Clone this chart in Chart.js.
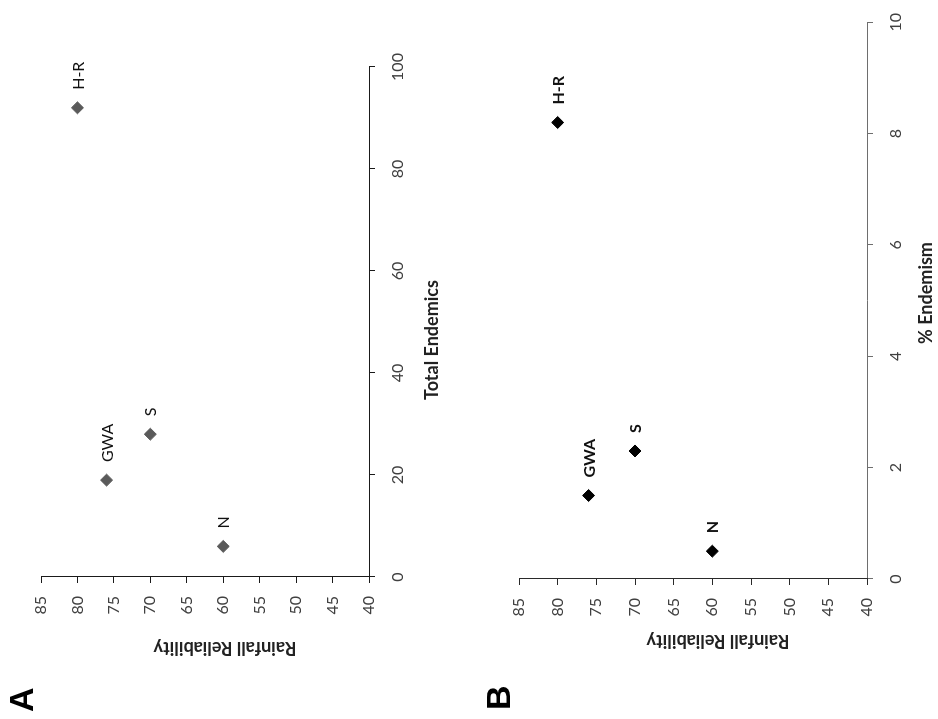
<!DOCTYPE html>
<html>
<head>
<meta charset="utf-8">
<title>Rainfall reliability and endemism</title>
<script src="https://cdn.jsdelivr.net/npm/chart.js@4.4.1/dist/chart.umd.min.js"></script>
<style>
  html, body { margin: 0; padding: 0; background: #fff; overflow: hidden; }
  /* The figure is laid out as a portrait page and turned a quarter turn anticlockwise */
  #page {
    position: absolute; left: 0; top: 0;
    width: 719px; height: 938px;
    transform-origin: 0 0;
    transform: translate(0, 719px) rotate(-90deg);
    background: #fff;
  }
  #page canvas { position: absolute; left: 0; }
  .tag {
    position: absolute;
    font-family: "Liberation Sans", Arial, sans-serif;
    font-weight: bold; font-size: 34px; line-height: 1; color: #000;
  }
</style>
</head>
<body>
<div id="page">
  <canvas id="chartA" width="719" height="469" style="top:0"></canvas>
  <canvas id="chartB" width="719" height="469" style="top:469px"></canvas>
  <div class="tag" style="left:7px; top:4px">A</div>
  <div class="tag" style="left:9px; top:481px">B</div>
</div>

<script>
// Regions and their values
const regions = ['N', 'GWA', 'S', 'H-R'];
const rainfallReliability = [60, 76, 70, 80];
const totalEndemics = [6, 19, 28, 92];
const percentEndemism = [0.5, 1.5, 2.3, 8.2];

const FONT = 'Lato, "Open Sans", sans-serif';

// Writes each region name to the right of its marker
const pointTags = {
  id: 'pointTags',
  afterDatasetsDraw(chart, args, opts) {
    const ctx = chart.ctx;
    const meta = chart.getDatasetMeta(0);
    ctx.save();
    ctx.font = opts.font;
    ctx.fillStyle = opts.color;
    ctx.textAlign = 'left';
    ctx.textBaseline = 'middle';
    meta.data.forEach((pt, i) => {
      ctx.fillText(opts.labels[i], pt.x + opts.dx, pt.y + opts.dy);
    });
    ctx.restore();
  }
};

// Axis titles, centred on the whole panel rather than on the plot area
const axisCaptions = {
  id: 'axisCaptions',
  afterDraw(chart, args, opts) {
    const ctx = chart.ctx;
    const a = chart.chartArea;
    ctx.save();
    ctx.font = opts.font;
    ctx.fillStyle = opts.color;
    ctx.textAlign = 'center';
    ctx.textBaseline = 'middle';
    ctx.fillText(opts.x.text, a.left + opts.x.dx, a.bottom + opts.x.dy);
    ctx.translate(a.left + opts.y.dx, a.top + opts.y.dy);
    ctx.rotate(-Math.PI / 2);
    ctx.fillText(opts.y.text, 0, 0);
    ctx.restore();
  }
};

function axis(min, max, step, color, fitSize, horizontal) {
  return {
    type: 'linear',
    min, max,
    position: horizontal ? 'bottom' : 'left',
    ticks: {
      stepSize: step,
      padding: 13,
      color: '#404040',
      font: { family: FONT, size: 16 }
    },
    grid: {
      display: true,
      drawOnChartArea: false,
      drawTicks: true,
      tickLength: 6,
      color: color
    },
    border: { display: true, color: color, width: 1 },
    title: { display: false },
    afterFit(scale) {
      if (horizontal) scale.height = fitSize; else scale.width = fitSize;
    }
  };
}

function scatterPanel(id, xValues, opts) {
  const points = xValues.map((x, i) => ({ x, y: rainfallReliability[i] }));
  return new Chart(document.getElementById(id), {
    type: 'scatter',
    data: {
      datasets: [{
        data: points,
        pointStyle: 'rectRot',
        pointRadius: 6,
        pointHoverRadius: 6,
        backgroundColor: opts.marker,
        borderColor: opts.marker,
        borderWidth: 1
      }]
    },
    options: {
      responsive: false,
      animation: false,
      events: [],
      layout: { padding: opts.padding },
      scales: {
        x: axis(opts.xMin, opts.xMax, opts.xStep, opts.xAxisColor, opts.xFit, true),
        y: axis(40, 85, 5, opts.yAxisColor, opts.yFit, false)
      },
      plugins: {
        legend: { display: false },
        tooltip: { enabled: false },
        pointTags: {
          labels: regions,
          font: opts.tagFont,
          color: '#111',
          dx: 18,
          dy: 1
        },
        axisCaptions: {
          font: 'bold 18px ' + FONT,
          color: '#222',
          x: opts.xCaption,
          y: { text: 'Rainfall Reliability', dx: opts.yCaption.dx, dy: opts.yCaption.dy }
        }
      }
    },
    plugins: [pointTags, axisCaptions]
  });
}

// Panel A: total number of endemic species
scatterPanel('chartA', totalEndemics, {
  xMin: 0, xMax: 100, xStep: 20,
  marker: '#5a5a5a',
  xAxisColor: '#1a1a1a', yAxisColor: '#1a1a1a',
  padding: { top: 41, right: 67, left: 0, bottom: 0 },
  xFit: 100, yFit: 142,
  tagFont: '16px ' + FONT,
  xCaption: { text: 'Total Endemics', dx: 237, dy: 63 },
  yCaption: { dx: -71, dy: 184 }
});

// Panel B: endemism as a percentage of the flora
scatterPanel('chartB', percentEndemism, {
  xMin: 0, xMax: 10, xStep: 2,
  marker: '#000000',
  xAxisColor: '#6e6e6e', yAxisColor: '#2a2a2a',
  padding: { top: 50, right: 21, left: 0, bottom: 0 },
  xFit: 71, yFit: 140,
  tagFont: 'bold 16px ' + FONT,
  xCaption: { text: '% Endemism', dx: 286, dy: 59 },
  yCaption: { dx: -62, dy: 199 }
});
</script>
</body>
</html>
